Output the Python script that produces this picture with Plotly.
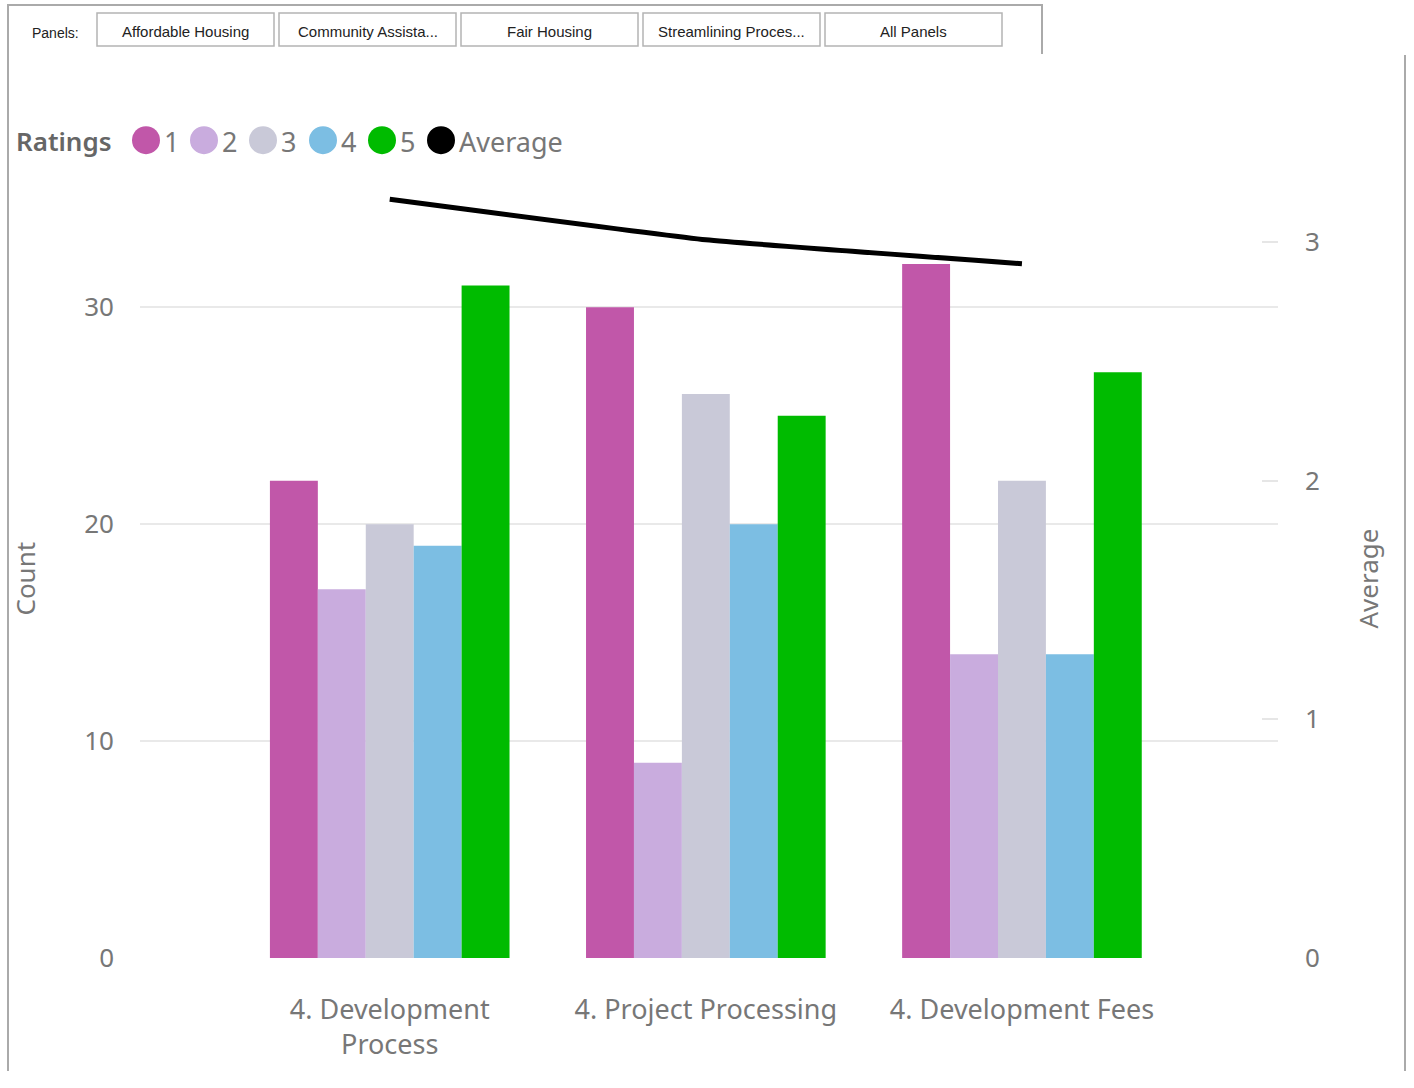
import plotly.graph_objects as go

# ---- data -------------------------------------------------------------
categories = ["4. Development<br>Process", "4. Project Processing", "4. Development Fees"]
rating_names = ["1", "2", "3", "4", "5"]
rating_1 = [22, 30, 32]
rating_2 = [17, 9, 14]
rating_3 = [20, 26, 22]
rating_4 = [19, 20, 14]
rating_5 = [31, 25, 27]
average = [3.18, 3.01, 2.91]
panel_buttons = ["Affordable Housing", "Community Assista...", "Fair Housing",
                 "Streamlining Proces...", "All Panels"]

rating_colors = ["#C157A9", "#C9ACDE", "#C9C9D8", "#7CBEE3", "#00BB00"]
W, H = 1414, 1088
H_VIEW = 1070          # visible drawing height used for paper fractions
FONT = "Noto Sans"


def px(x):
    return x / W


def py(y):
    return 1 - y / H_VIEW


# plot area in page pixels
LEFT, RIGHT, TOP, BOTTOM = 140, 1278, 190, 957
count_per_px = 30 / (BOTTOM - 307)
avg_per_px = 3 / (BOTTOM - 242)

fig = go.Figure()
x_idx = list(range(len(categories)))
for name, vals, col in zip(rating_names,
                           [rating_1, rating_2, rating_3, rating_4, rating_5],
                           rating_colors):
    fig.add_trace(go.Bar(x=x_idx, y=vals, name=name, marker_color=col,
                         marker_line_width=0, showlegend=False))

fig.add_trace(go.Scatter(x=x_idx, y=average, name="Average", yaxis="y2",
                         mode="lines", line=dict(color="black", width=5,
                                                 shape="spline", smoothing=0.3),
                         showlegend=False))

fig.update_layout(
    width=W, height=H, autosize=False,
    margin=dict(l=0, r=0, t=0, b=0),
    paper_bgcolor="white", plot_bgcolor="white",
    barmode="group", bargap=0.242, bargroupgap=0,
    font=dict(family=FONT, color="#777777"),
    xaxis=dict(domain=[px(LEFT), px(RIGHT)], range=[-0.79, 2.81],
               tickvals=x_idx, ticktext=categories, showgrid=False,
               zeroline=False, showline=False, ticks="",
               tickfont=dict(size=27, color="#777777"), ticklabelstandoff=33),
    yaxis=dict(domain=[py(BOTTOM), py(TOP)],
               range=[0, (BOTTOM - TOP) * count_per_px],
               tickvals=[0, 10, 20, 30], showgrid=True, gridcolor="#E9E9E9",
               gridwidth=2, zeroline=False, showline=False, ticks="",
               tickfont=dict(size=26, color="#777777"), ticklabelstandoff=25),
    yaxis2=dict(overlaying="y", side="right", anchor="x",
                range=[0, (BOTTOM - TOP) * avg_per_px],
                tickvals=[0, 1, 2, 3], showgrid=False, zeroline=False,
                showline=False, ticks="inside", ticklen=16, tickwidth=2,
                tickcolor="#E6E6E6",
                tickfont=dict(size=26, color="#777777"), ticklabelstandoff=26),
)

shapes = []
annotations = []

# visual frames
frame = dict(type="line", xref="paper", yref="paper",
             line=dict(color="#AAAAAA", width=2))
shapes.append({**frame, "x0": px(8), "x1": px(8), "y0": py(4), "y1": 0})
shapes.append({**frame, "x0": px(8), "x1": px(1042), "y0": py(5), "y1": py(5)})
shapes.append({**frame, "x0": px(1042), "x1": px(1042), "y0": py(4), "y1": py(54)})
shapes.append({**frame, "x0": px(1405), "x1": px(1405), "y0": py(55), "y1": 0})

# panel selector
annotations.append(dict(text="Panels:", x=px(30), y=py(33), xref="paper",
                        yref="paper", xanchor="left", yanchor="middle",
                        showarrow=False,
                        font=dict(family="Liberation Sans", size=14, color="#222222")))
for i, label in enumerate(panel_buttons):
    x0 = 97 + i * 182
    x1 = x0 + 177
    shapes.append(dict(type="rect", xref="paper", yref="paper",
                       x0=px(x0), x1=px(x1), y0=py(13), y1=py(46),
                       fillcolor="white", line=dict(color="#B4B4B4", width=1.5)))
    annotations.append(dict(text=label, x=px((x0 + x1) / 2), y=py(31),
                            xref="paper", yref="paper", showarrow=False,
                            xanchor="center", yanchor="middle",
                            font=dict(family="Liberation Sans", size=15,
                                      color="#222222")))

# legend
annotations.append(dict(text="Ratings", x=px(14), y=py(141), xref="paper",
                        yref="paper", xanchor="left", yanchor="middle",
                        showarrow=False,
                        font=dict(family=FONT, size=26, color="#666666",
                                  weight=600)))
legend_items = rating_names + ["Average"]
legend_colors = rating_colors + ["#000000"]
dot_x = [146, 204, 263, 323, 382, 441]
for name, col, cx in zip(legend_items, legend_colors, dot_x):
    shapes.append(dict(type="circle", xref="paper", yref="paper",
                       xsizemode="pixel", ysizemode="pixel",
                       xanchor=px(cx), yanchor=py(140),
                       x0=-14, x1=14, y0=-14, y1=14,
                       fillcolor=col, line=dict(width=0)))
    annotations.append(dict(text=name, x=px(cx + 16), y=py(141), xref="paper",
                            yref="paper", xanchor="left", yanchor="middle",
                            showarrow=False,
                            font=dict(family=FONT, size=27, color="#777777")))

# axis titles
annotations.append(dict(text="Count", x=px(25), y=py(578), xref="paper",
                        yref="paper", textangle=-90, showarrow=False,
                        xanchor="center", yanchor="middle",
                        font=dict(family=FONT, size=26, color="#777777")))
annotations.append(dict(text="Average", x=px(1368), y=py(578), xref="paper",
                        yref="paper", textangle=-90, showarrow=False,
                        xanchor="center", yanchor="middle",
                        font=dict(family=FONT, size=26, color="#777777")))

fig.update_layout(shapes=shapes, annotations=annotations)

# keep the page exactly the size of the figure (no body margin, no scrollbars)
page_style = ("document.documentElement.style.margin='0';"
              "document.documentElement.style.overflow='hidden';"
              "document.body.style.margin='0';"
              "document.body.style.overflow='hidden';")
fig.write_html("out.html", config={"responsive": False}, post_script=page_style)
